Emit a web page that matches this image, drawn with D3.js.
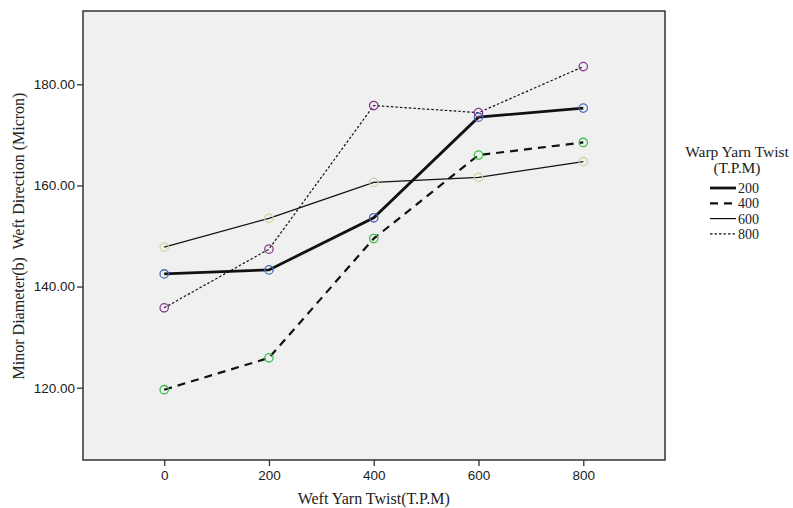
<!DOCTYPE html>
<html><head><meta charset="utf-8">
<script src="https://cdn.jsdelivr.net/npm/d3@7"></script>
<style>body{margin:0;background:#fff}svg{display:block}</style>
</head><body>
<script>
const weftTwist = [0, 200, 400, 600, 800];
const warpLevels = ["200", "400", "600", "800"];
const s200 = [142.5, 143.3, 153.6, 173.5, 175.3];
const s400 = [119.6, 125.9, 149.5, 166.0, 168.5];
const s600 = [147.8, 153.5, 160.6, 161.6, 164.7];
const s800 = [135.8, 147.4, 175.8, 174.4, 183.5];
const yTicks = [120, 140, 160, 180];
const series = [
  {name: "200", values: s200, color: "#4a68b8", width: 2.8, dash: null},
  {name: "400", values: s400, color: "#3cc04a", width: 2.2, dash: "8,6"},
  {name: "600", values: s600, color: "#d6d0a0", width: 1.2, dash: null},
  {name: "800", values: s800, color: "#8a3a8a", width: 1.2, dash: "2.5,2"}
];

const W = 793, H = 508;
const m = {left: 83, top: 11, right: 665, bottom: 460};
const serif = "Liberation Serif, Times New Roman, serif";
const svg = d3.select("body").append("svg").attr("width", W).attr("height", H);

const x = d3.scaleLinear().domain([-155, 956]).range([m.left, m.right]);
const y = d3.scaleLinear().domain([105.7, 194.5]).range([m.bottom, m.top]);

svg.append("rect").attr("x", m.left).attr("y", m.top)
  .attr("width", m.right - m.left).attr("height", m.bottom - m.top)
  .attr("fill", "#f0f0f0");

const gx = svg.append("g").attr("transform", `translate(0,${m.bottom})`)
  .call(d3.axisBottom(x).tickValues(weftTwist).tickSize(6).tickPadding(4).tickFormat(d3.format("d")));
const gy = svg.append("g").attr("transform", `translate(${m.left},0)`)
  .call(d3.axisLeft(y).tickValues(yTicks).tickSize(6).tickPadding(2).tickFormat(d3.format(".2f")));
[gx, gy].forEach(g => {
  g.select(".domain").remove();
  g.selectAll("line").attr("stroke", "#333").attr("stroke-width", 1.3);
  g.selectAll("text").attr("font-family", "Liberation Sans, Arial, sans-serif")
    .attr("font-size", 13.5).attr("fill", "#222");
});

svg.append("rect").attr("x", m.left).attr("y", m.top)
  .attr("width", m.right - m.left).attr("height", m.bottom - m.top)
  .attr("fill", "none").attr("stroke", "#333").attr("stroke-width", 1.5);

const line = d3.line().x((d, i) => x(weftTwist[i])).y(d => y(d));

series.forEach(s => {
  svg.append("path").datum(s.values).attr("d", line)
    .attr("fill", "none").attr("stroke", "#111").attr("stroke-width", s.width)
    .attr("stroke-dasharray", s.dash);
});
series.forEach(s => {
  svg.append("g").selectAll("circle").data(s.values).join("circle")
    .attr("cx", (d, i) => x(weftTwist[i])).attr("cy", d => y(d)).attr("r", 4.2)
    .attr("fill", "none").attr("stroke", s.color).attr("stroke-width", 1.3);
});

svg.append("text").attr("x", x(400)).attr("y", 504).attr("text-anchor", "middle")
  .attr("font-family", serif).attr("font-size", 16)
  .attr("fill", "#222").text("Weft Yarn Twist(T.P.M)");

svg.append("text").attr("transform", `translate(24,236) rotate(-90)`).attr("text-anchor", "middle")
  .attr("font-family", serif).attr("font-size", 16)
  .attr("fill", "#222").attr("xml:space", "preserve")
  .style("white-space", "pre").text("Minor Diameter(b)  Weft Direction (Micron)");

const lg = svg.append("g");
lg.append("text").attr("x", 737).attr("y", 157).attr("text-anchor", "middle")
  .attr("font-family", serif).attr("font-size", 15.5)
  .attr("fill", "#222").text("Warp Yarn Twist");
lg.append("text").attr("x", 737).attr("y", 173).attr("text-anchor", "middle")
  .attr("font-family", serif).attr("font-size", 15.5)
  .attr("fill", "#222").text("(T.P.M)");
series.forEach((s, i) => {
  const yy = 188 + i * 15.3;
  lg.append("line").attr("x1", 710).attr("x2", 736).attr("y1", yy).attr("y2", yy)
    .attr("stroke", "#111").attr("stroke-width", s.width).attr("stroke-dasharray", s.dash);
  lg.append("text").attr("x", 738).attr("y", yy + 5)
    .attr("font-family", serif).attr("font-size", 14)
    .attr("fill", "#222").text(warpLevels[i]);
});
</script>
</body></html>
